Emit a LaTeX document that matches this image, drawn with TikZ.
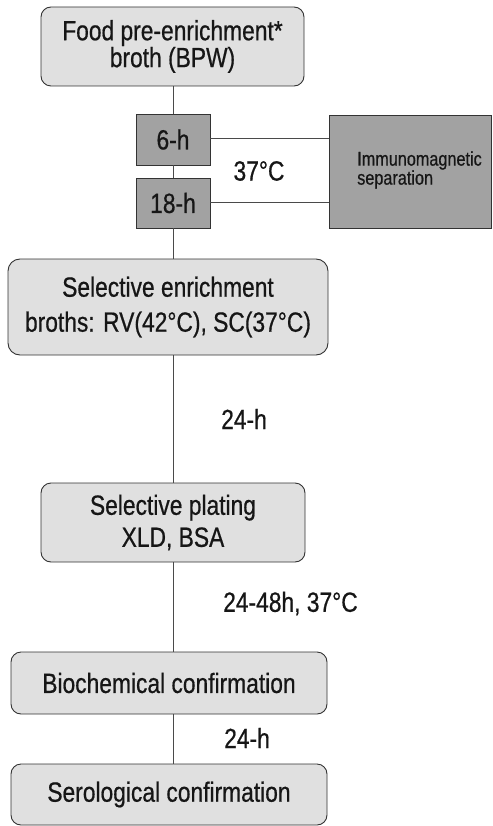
\documentclass[tikz,border=0pt]{standalone}
\usepackage{fontspec}
\setmainfont[FakeStretch=0.82,FakeBold=0.6]{Liberation Sans}
\definecolor{lightbox}{HTML}{E0E0E0}
\definecolor{darkbox}{HTML}{A2A2A2}
\definecolor{edge}{HTML}{333333}
\definecolor{ink}{HTML}{161616}
\definecolor{conn}{HTML}{4A4A4A}
\tikzset{
  roundbox/.style={draw=edge, line width=0.9pt, fill=lightbox, rounded corners=10pt,
    align=center, text=ink, inner sep=0pt},
  darkstep/.style={draw=edge, line width=0.9pt, fill=darkbox, text=ink, inner sep=0pt,
    font=\fontsize{27.8}{30}\selectfont},
  lbl/.style={text=ink, inner sep=0pt, font=\fontsize{27.8}{30}\selectfont},
  conline/.style={draw=conn, line width=0.8pt}
}
\begin{document}
\begin{tikzpicture}[x=1pt,y=-1pt]
\useasboundingbox[fill=white] (0,0) rectangle (492,826);
% boxes
\node[roundbox, minimum width=263pt, minimum height=79pt, font=\fontsize{27.8}{25.6}\selectfont]
  (food) at (172.5,46.5) {Food pre-enrichment*\\broth (BPW)};
\node[darkstep, minimum width=74pt, minimum height=51pt] (h6) at (173,139.5) {6-h};
\node[darkstep, minimum width=74pt, minimum height=50pt] (h18) at (173,203) {18-h};
\node[draw=edge, line width=0.9pt, fill=darkbox, minimum width=162pt, minimum height=113pt, inner sep=0pt]
  (imm) at (410.5,171.5) {};
\node[text=ink, inner sep=0pt, align=left, font=\fontsize{19.8}{19}\selectfont]
  (immtext) at (419.5,170) {Immunomagnetic\\separation};
\node[roundbox, rounded corners=12pt, minimum width=320pt, minimum height=96pt, font=\fontsize{27.8}{35}\selectfont]
  (selenr) at (168,307) {Selective enrichment\\broths: RV(42°C), SC(37°C)};
\node[roundbox, minimum width=264pt, minimum height=79pt, font=\fontsize{27.8}{32}\selectfont]
  (selpl) at (173,522.5) {Selective plating\\XLD, BSA};
\node[roundbox, minimum width=316pt, minimum height=62pt, font=\fontsize{27.8}{30}\selectfont]
  (bio) at (169,683) {Biochemical confirmation};
\node[roundbox, minimum width=316pt, minimum height=61pt, font=\fontsize{27.8}{30}\selectfont]
  (sero) at (169,794.5) {Serological confirmation};
% labels
\node[lbl] (t37) at (259,171) {37°C};
\node[lbl, anchor=west] (t24a) at (221,419) {24-h};
\node[lbl, anchor=west] (t2448) at (223,603.5) {24-48h, 37°C};
\node[lbl, anchor=west] (t24b) at (224,738) {24-h};
% connectors
\coordinate (spine) at (173.5,0);
\draw[conline] (food.south -| spine) -- (h6.north -| spine);
\draw[conline] (h6.south -| spine) -- (h18.north -| spine);
\draw[conline] (h18.south -| spine) -- (selenr.north -| spine);
\draw[conline] (selenr.south -| spine) -- (selpl.north -| spine);
\draw[conline] (selpl.south -| spine) -- (bio.north -| spine);
\draw[conline] (bio.south -| spine) -- (sero.north -| spine);
\draw[conline] ([yshift=1.5pt]h6.east) -- ([yshift=1.5pt]h6.east -| imm.west);
\draw[conline] ([yshift=1pt]h18.east) -- ([yshift=1pt]h18.east -| imm.west);
\end{tikzpicture}
\end{document}
